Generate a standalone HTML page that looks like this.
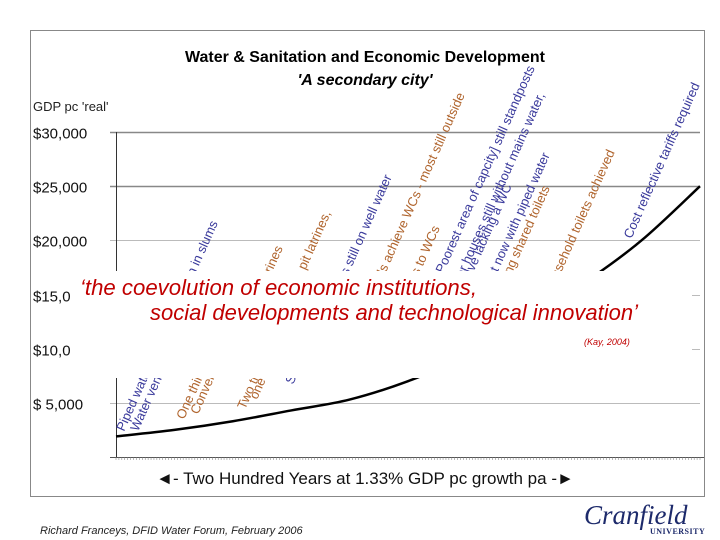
<!DOCTYPE html>
<html><head><meta charset="utf-8"><style>
html,body{margin:0;padding:0;background:#fff;}
body{width:720px;height:540px;overflow:hidden;position:relative;font-family:"Liberation Sans",sans-serif;}
</style></head><body>
<svg id="chart" width="720" height="540" viewBox="0 0 720 540" xmlns="http://www.w3.org/2000/svg" style="position:absolute;left:0;top:0">
<defs>
<clipPath id="clipTop"><rect x="0" y="0" width="720" height="271"/></clipPath>
<clipPath id="clipBot"><rect x="0" y="378" width="720" height="80"/></clipPath>
</defs>
<rect x="30.5" y="30.5" width="674" height="466" fill="#fff" stroke="#888" stroke-width="1"/>
<text x="365" y="62" text-anchor="middle" font-size="16" font-weight="bold" textLength="360" lengthAdjust="spacingAndGlyphs">Water &amp; Sanitation and Economic Development</text>
<text x="365" y="85" text-anchor="middle" font-size="16" font-weight="bold" font-style="italic">'A secondary city'</text>
<text x="33" y="111" font-size="13" fill="#222">GDP pc 'real'</text>
<g id="grid"></g>
<g id="ylabels"></g>
<g id="xaxis"></g>
<g id="labelsTop" clip-path="url(#clipTop)"></g>
<g id="labelsBot" clip-path="url(#clipBot)"></g>
<path id="curve" fill="none" stroke="#000" stroke-width="2.5"/>
<rect x="70" y="271" width="622" height="107" fill="#fff"/>
<text x="80" y="295" font-size="22" font-style="italic" fill="#c00000" textLength="397" lengthAdjust="spacingAndGlyphs">‘the coevolution of economic institutions,</text>
<text x="150" y="320" font-size="22" font-style="italic" fill="#c00000" textLength="488" lengthAdjust="spacingAndGlyphs">social developments and technological innovation’</text>
<text x="584" y="345" font-size="9" font-style="italic" fill="#c00000">(Kay, 2004)</text>
<text x="365" y="484" text-anchor="middle" font-size="17" fill="#111">◄-      Two Hundred Years at 1.33% GDP pc growth pa      -►</text>
<text x="40" y="534" font-size="11" font-style="italic" fill="#222">Richard Franceys, DFID Water Forum, February 2006</text>
<text x="584" y="524" font-size="27" font-style="italic" font-family="Liberation Serif, serif" fill="#1d2a6b">Cranfield</text>
<text x="650" y="534" font-size="8" font-weight="bold" font-family="Liberation Serif, serif" fill="#1d2a6b" letter-spacing="0.5">UNIVERSITY</text>
</svg>
<script>
const years=[0,20,40,60,80,100,120,140,160,180,200];
const gdp=[1900,2500,3300,4300,5300,7000,9300,12500,16000,20000,25000];
const yTicks=[30000,25000,20000,15000,10000,5000];
const yTickLabels=["$30,000","$25,000","$20,000","$15,000","$10,000","$ 5,000"];
const annotEnd=[
 {t:"Most of population in slums",x:218,y:223,c:"b"},
 {t:"Public standpipes and latrines",x:283,y:248,c:"o"},
 {t:"One third use pit latrines,",x:331,y:213,c:"o"},
 {t:"Many households still on well water",x:392,y:177,c:"b"},
 {t:"Richer households achieve WCs - most still outside",x:465,y:95,c:"o"},
 {t:"Half of households have access to WCs",x:440,y:228,c:"o"},
 {t:"Poorest area of capcity] still standposts",x:535,y:68,c:"b"},
 {t:"Poorer houses still without mains water,",x:545,y:95,c:"b"},
 {t:"One in five lacking a WC",x:512,y:186,c:"b"},
 {t:"Most now with piped water",x:550,y:155,c:"b"},
 {t:"Remainder using shared toilets",x:550,y:188,c:"o"},
 {t:"Universal household toilets achieved",x:615,y:152,c:"o"},
 {t:"Cost reflective tariffs required",x:700,y:85,c:"b"}
];
const annotStart=[
 {t:"Piped water for few",x:124,y:432,c:"b"},
 {t:"Water vendors",x:138,y:432,c:"b"},
 {t:"One third use",x:184,y:420,c:"o"},
 {t:"Conventional",x:198,y:415,c:"o"},
 {t:"Two thirds",x:245,y:410,c:"o"},
 {t:"one tap",x:257,y:400,c:"o"},
 {t:"Sewers",x:293,y:385,c:"b"}
];
const X0=116,X1=700,Y0=457,Y30=132;
const xs=y=>X0+(y-0)/200*(X1-X0);
const ys=v=>Y0-v/30000*(Y0-Y30);
const NS="http://www.w3.org/2000/svg";
function mk(tag,attrs,parent){const e=document.createElementNS(NS,tag);for(const k in attrs)e.setAttribute(k,attrs[k]);parent.appendChild(e);return e;}
const grid=document.getElementById('grid'),yl=document.getElementById('ylabels'),xa=document.getElementById('xaxis');
const labT=document.getElementById('labelsTop'),labB=document.getElementById('labelsBot');
yTicks.forEach((v,i)=>{
 const y=Math.round(ys(v))+0.5;
 const g=mk('line',{x1:X0-6,x2:X1,y1:y,y2:y,stroke:(v>=25000?'#888':'#bbb'),'stroke-width':(v>=25000?1.5:1)},grid);
 
 
 const t=mk('text',{x:33,y:y+6,'font-size':15,fill:'#111'},yl);
 t.textContent=yTickLabels[i];
 
 
});
const ax=mk('line',{x1:X0+0.5,x2:X0+0.5,y1:Y30,y2:Y0,stroke:'#333','stroke-width':1},xa);


const bx=mk('line',{x1:X0-6,x2:X1+4,y1:Y0+0.5,y2:Y0+0.5,stroke:'#555','stroke-width':1},xa);


for(let i=0;i<=200;i++){const x=xs(i);const tk=mk('line',{x1:x,x2:x,y1:Y0,y2:Y0+3,stroke:'#777','stroke-width':0.5},xa);
 
 }
const col={b:'#3b3b9c',o:'#b0652e'};
annotEnd.forEach(a=>{const t=mk('text',{x:a.x,y:a.y,'text-anchor':'end','font-size':13,fill:col[a.c],transform:`rotate(-66 ${a.x} ${a.y})`},labT);t.textContent=a.t;
 
 });
annotStart.forEach(a=>{const t=mk('text',{x:a.x,y:a.y,'font-size':13,fill:col[a.c],transform:`rotate(-66 ${a.x} ${a.y})`},labB);t.textContent=a.t;
 
 });
let d='';
for(let i=0;i<years.length;i++){
 if(i===0){d+=`M${xs(years[0])},${ys(gdp[0])}`;continue;}
 const p0=[xs(years[Math.max(i-2,0)]),ys(gdp[Math.max(i-2,0)])],p1=[xs(years[i-1]),ys(gdp[i-1])],p2=[xs(years[i]),ys(gdp[i])],p3=[xs(years[Math.min(i+1,years.length-1)]),ys(gdp[Math.min(i+1,years.length-1)])];
 const c1=[p1[0]+(p2[0]-p0[0])/6,p1[1]+(p2[1]-p0[1])/6],c2=[p2[0]-(p3[0]-p1[0])/6,p2[1]-(p3[1]-p1[1])/6];
 d+=` C${c1[0]},${c1[1]} ${c2[0]},${c2[1]} ${p2[0]},${p2[1]}`;
}
document.getElementById('curve').setAttribute('d',d);
</script>
</body></html>
